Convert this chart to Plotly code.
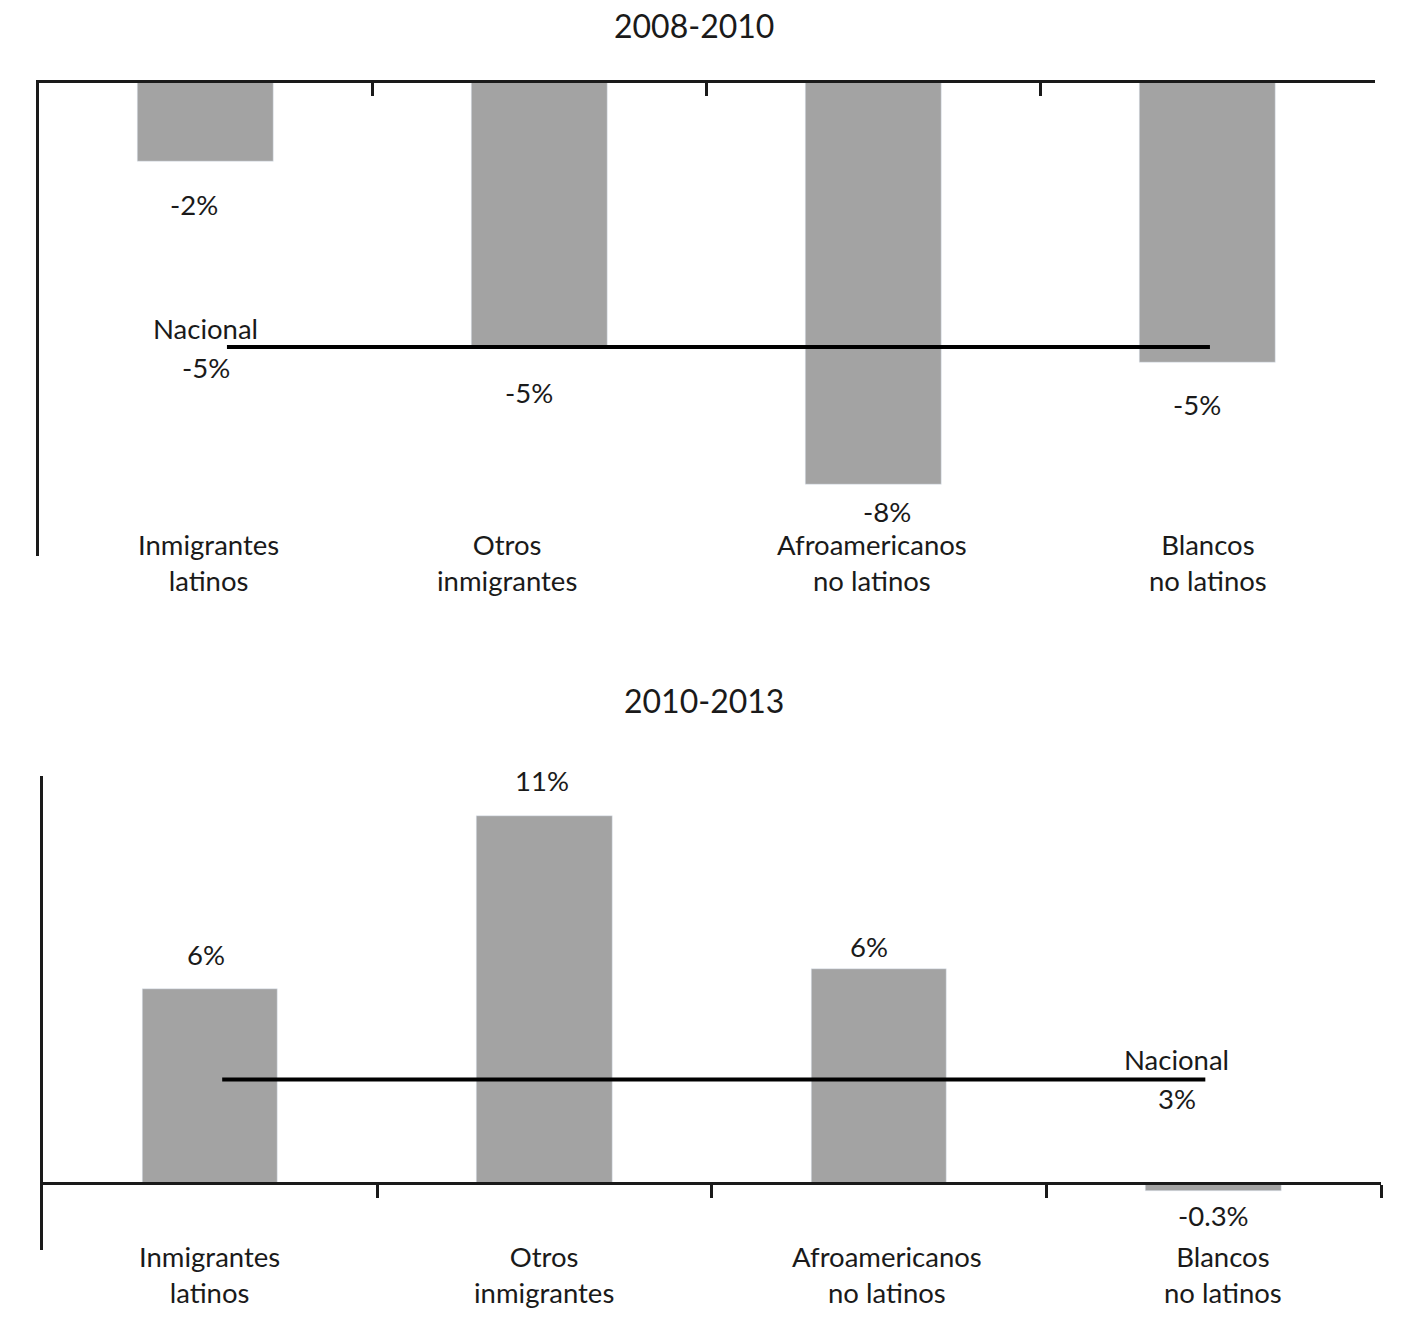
import plotly.graph_objects as go

# ---- data ----
categories = ["Inmigrantes<br>latinos", "Otros<br>inmigrantes",
              "Afroamericanos<br>no latinos", "Blancos<br>no latinos"]
values_2008_2010 = [-1.5, -5.0, -7.6, -5.3]
labels_2008_2010 = ["-2%", "-5%", "-8%", "-5%"]
national_2008_2010 = -5.0
national_label_2008_2010 = "-5%"

values_2010_2013 = [5.8, 11.0, 6.4, -0.25]
labels_2010_2013 = ["6%", "11%", "6%", "-0.3%"]
national_2010_2013 = 3.1
national_label_2010_2013 = "3%"

titles = ["2008-2010", "2010-2013"]

# ---- style ----
W, H = 1414, 1330
FONT = "Lato"
TXT = "#1a1a1a"
BAR = "#a3a3a3"
FS = 27.5

def px(x):
    return x / W

def py(y):
    return 1 - y / H

idx = list(range(len(categories)))

fig = go.Figure()

# Top chart
fig.add_trace(go.Bar(x=idx, y=values_2008_2010, marker_color=BAR, width=0.407,
                     xaxis="x", yaxis="y", showlegend=False, hoverinfo="skip"))
fig.add_trace(go.Scatter(x=[0.064, 3.006], y=[national_2008_2010] * 2, mode="lines",
                         line=dict(color="black", width=4), xaxis="x", yaxis="y",
                         showlegend=False, hoverinfo="skip"))
# Bottom chart
fig.add_trace(go.Bar(x=idx, y=values_2010_2013, marker_color=BAR, width=0.405,
                     xaxis="x2", yaxis="y2", showlegend=False, hoverinfo="skip"))
fig.add_trace(go.Scatter(x=[0.037, 2.975], y=[national_2010_2013] * 2, mode="lines",
                         line=dict(color="black", width=4), xaxis="x2", yaxis="y2",
                         showlegend=False, hoverinfo="skip"))

ann = []
font = dict(family=FONT, size=FS, color=TXT)
C = dict(showarrow=False, xanchor="center", yanchor="middle")

# titles
ann.append(dict(text=titles[0], x=px(694), y=py(25), xref="paper", yref="paper",
                font=dict(family=FONT, size=32, color=TXT), **C))
ann.append(dict(text=titles[1], x=px(704), y=py(700), xref="paper", yref="paper",
                font=dict(family=FONT, size=32, color=TXT), **C))

# top value labels
top_dx = [-0.034, -0.031, 0.039, -0.033]
top_shift = [-43, -45, -27, -42]
for i, (v, lab) in enumerate(zip(values_2008_2010, labels_2008_2010)):
    ann.append(dict(text=lab, x=i + top_dx[i], y=v, xref="x", yref="y", yshift=top_shift[i],
                    font=font, **C))
ann.append(dict(text="Nacional", x=0.0, y=national_2008_2010, xref="x", yref="y", yshift=19,
                font=font, **C))
ann.append(dict(text=national_label_2008_2010, x=0.0, y=national_2008_2010, xref="x", yref="y",
                yshift=-20, font=font, **C))

# bottom value labels
bot_dx = [-0.01, -0.007, -0.031, 0.0]
bot_shift = [35, 35, 23, -24]
for i, (v, lab) in enumerate(zip(values_2010_2013, labels_2010_2013)):
    ann.append(dict(text=lab, x=i + bot_dx[i], y=v, xref="x2", yref="y2", yshift=bot_shift[i],
                    font=font, **C))
ann.append(dict(text="Nacional", x=2.89, y=national_2010_2013, xref="x2", yref="y2", yshift=20,
                font=font, **C))
ann.append(dict(text=national_label_2010_2013, x=2.89, y=national_2010_2013, xref="x2", yref="y2",
                yshift=-19, font=font, **C))

# category labels
top_cdx = [0.01, -0.097, -0.006, 0.0]
bot_cdx = [0.0, 0.0, 0.025, 0.028]
for i, c in enumerate(categories):
    ann.append(dict(text=c, x=i + top_cdx[i], y=py(562), xref="x", yref="paper",
                    font=font, **C))
    ann.append(dict(text=c, x=i + bot_cdx[i], y=py(1274), xref="x2", yref="paper",
                    font=font, **C))

axis_common = dict(showgrid=False, zeroline=False, showline=True, linecolor=TXT, linewidth=2.5)

fig.update_layout(
    width=W, height=H,
    margin=dict(l=0, r=0, t=0, b=0),
    paper_bgcolor="white", plot_bgcolor="white",
    font=font,
    bargap=0,
    annotations=ann,
    xaxis=dict(domain=[px(38.5), px(1375)], range=[-0.5, 3.5], side="top", anchor="y",
               ticks="inside", tickvals=[0.5, 1.5, 2.5, 3.5], ticklen=14, tickwidth=2.5,
               tickcolor=TXT, showticklabels=False, **axis_common),
    yaxis=dict(domain=[py(556), py(82.5)], range=[-8.95, 0], anchor="x",
               showticklabels=False, ticks="", **axis_common),
    xaxis2=dict(domain=[px(42.5), px(1381)], range=[-0.5, 3.5], anchor="free",
                position=py(1183), ticks="outside", tickvals=[0.5, 1.5, 2.5, 3.5],
                ticklen=13, tickwidth=2.5, tickcolor=TXT, showticklabels=False, **axis_common),
    yaxis2=dict(domain=[py(1250), py(776)], range=[-2.006, 12.19], anchor="x2",
                showticklabels=False, ticks="", **axis_common),
)

fig.write_html("out.html", config={"displayModeBar": False},
               post_script="document.body.style.margin='0';document.body.style.overflow='hidden';")
